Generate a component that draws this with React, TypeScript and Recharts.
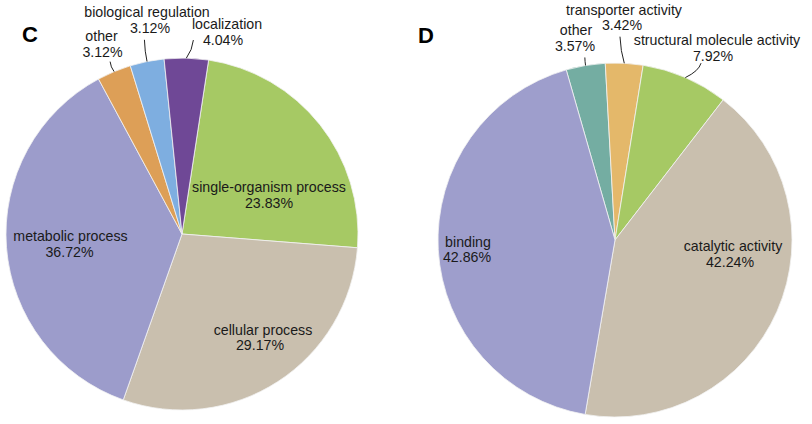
import React from "react";
import { Cell, Pie, PieChart } from "recharts";

// panel C: biological process
const bpCategories = [
  "single-organism process",
  "cellular process",
  "metabolic process",
  "other",
  "biological regulation",
  "localization",
];
const bpValues = [23.83, 29.17, 36.72, 3.12, 3.12, 4.04];
const bpColors = ["#a6c964", "#c9bfae", "#9c9ccb", "#dd9f57", "#7eaee0", "#6f4896"];

// panel D: molecular function
const mfCategories = ["other", "transporter activity", "structural molecule activity", "catalytic activity", "binding"];
const mfValues = [3.57, 3.42, 7.92, 42.24, 42.86];
const mfColors = ["#74ada2", "#e4b86a", "#a6c964", "#c9bfae", "#9e9ecc"];

const bpData = bpCategories.map((name, i) => ({ name, value: bpValues[i] }));
const mfData = mfCategories.map((name, i) => ({ name, value: mfValues[i] }));

type Place = { dx: number; dy: number; dx2: number; gap: number; lead?: [number, number] };

// label text placed relative to the pie centre; lead = leader line end relative to the slice edge
const bpPlaces: Record<string, Place> = {
  "single-organism process": { dx: 87, dy: -42, dx2: 87, gap: 16 },
  "cellular process": { dx: 81, dy: 101, dx2: 78, gap: 15 },
  "metabolic process": { dx: -111.5, dy: 7, dx2: -112.5, gap: 16 },
  other: { dx: -80.5, dy: -193, dx2: -79.5, gap: 15.5, lead: [-4, -10] },
  "biological regulation": { dx: -35, dy: -217, dx2: -32, gap: 16, lead: [-2.6, -21.7] },
  localization: { dx: 45, dy: -205, dx2: 41, gap: 15.5, lead: [7, -18] },
};

const mfPlaces: Record<string, Place> = {
  other: { dx: -39, dy: -205, dx2: -40, gap: 15.5, lead: [-0.7, -8] },
  "transporter activity": { dx: 9, dy: -225.5, dx2: 7, gap: 15.5, lead: [-4.3, -26.6] },
  "structural molecule activity": { dx: 102, dy: -195, dx2: 98, gap: 15.5, lead: [15.7, -14.4] },
  "catalytic activity": { dx: 118, dy: 10.5, dx2: 115, gap: 16 },
  binding: { dx: -147, dy: 6.5, dx2: -148, gap: 15.5 },
};

const RAD = Math.PI / 180;
const font = "'Liberation Sans', Arial, sans-serif";

function makeLabel(categories: string[], places: Record<string, Place>) {
  return (props: any) => {
    const { cx, cy, midAngle, outerRadius, index, value } = props;
    const name = categories[index];
    const p = places[name];
    let leader = null;
    if (p.lead) {
      const sx = cx + outerRadius * Math.cos(-midAngle * RAD);
      const sy = cy + outerRadius * Math.sin(-midAngle * RAD);
      const [lx, ly] = p.lead;
      leader = (
        <path
          d={`M${sx},${sy} Q${sx + lx * 0.85},${sy + ly * 0.45} ${sx + lx},${sy + ly}`}
          fill="none"
          stroke="#222"
          strokeWidth={1}
        />
      );
    }
    return (
      <g key={name}>
        {leader}
        <text x={cx + p.dx} y={cy + p.dy} textAnchor="middle" fontSize={14.2} fontFamily={font} fill="#1a1a1a">
          {name}
        </text>
        <text x={cx + p.dx2} y={cy + p.dy + p.gap} textAnchor="middle" fontSize={14.2} fontFamily={font} fill="#1a1a1a">
          {`${Number(value).toFixed(2)}%`}
        </text>
      </g>
    );
  };
}

export default function App() {
  return (
    <div style={{ position: "absolute", left: 0, top: 0, background: "#fff" }}>
      <PieChart width={812} height={424} margin={{ top: 0, right: 0, bottom: 0, left: 0 }}>
        <text x={22} y={42} fontSize={22} fontWeight="bold" fontFamily={font} fill="#000">
          C
        </text>
        <text x={418} y={43} fontSize={22} fontWeight="bold" fontFamily={font} fill="#000">
          D
        </text>
        <Pie
          data={bpData}
          dataKey="value"
          nameKey="name"
          cx={182}
          cy={234}
          outerRadius={176}
          startAngle={81.3}
          endAngle={81.3 - 360}
          stroke="#f2f2f2"
          strokeWidth={0.8}
          labelLine={false}
          label={makeLabel(bpCategories, bpPlaces)}
          isAnimationActive={false}
        >
          {bpData.map((d, i) => (
            <Cell key={d.name} fill={bpColors[i]} />
          ))}
        </Pie>
        <Pie
          data={mfData}
          dataKey="value"
          nameKey="name"
          cx={615}
          cy={240}
          outerRadius={177}
          startAngle={106}
          endAngle={106 - 360}
          stroke="#f2f2f2"
          strokeWidth={0.8}
          labelLine={false}
          label={makeLabel(mfCategories, mfPlaces)}
          isAnimationActive={false}
        >
          {mfData.map((d, i) => (
            <Cell key={d.name} fill={mfColors[i]} />
          ))}
        </Pie>
      </PieChart>
    </div>
  );
}
